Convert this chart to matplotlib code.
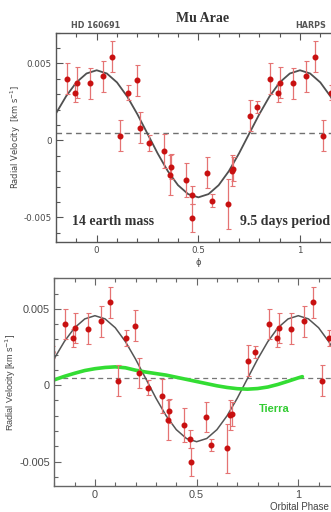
import matplotlib
matplotlib.use("Agg")
import matplotlib.pyplot as plt
from matplotlib.ticker import MultipleLocator

# phase-folded HARPS radial velocities of Mu Arae (km/s), one orbit
phase = [0.030, 0.074, 0.115, 0.152, 0.197, 0.215, 0.259, 0.331, 0.366, 0.361,
         0.438, 0.467, 0.470, 0.544, 0.569, 0.647, 0.664, 0.672, 0.754, 0.787,
         0.854, 0.893, 0.903, 0.965]
rv = [0.00417, 0.00543, 0.00030, 0.00309, 0.00390, 0.00081, -0.00017, -0.00072,
      -0.00170, -0.00226, -0.00260, -0.00354, -0.00502, -0.00209, -0.00391,
      -0.00413, -0.00196, -0.00187, 0.00161, 0.00218, 0.00400, 0.00309,
      0.00374, 0.00370]
rv_err = [0.0010, 0.0010, 0.0010, 0.0005, 0.0010, 0.0010, 0.0005, 0.0011,
          0.0008, 0.0013, 0.0011, 0.0006, 0.0009, 0.0010, 0.0004, 0.0016,
          0.0010, 0.0008, 0.0010, 0.0004, 0.0010, 0.0006, 0.0010, 0.0010]

# orbital fit
fit_phase = [-0.20, -0.15, -0.10, -0.05, 0.00, 0.05, 0.10, 0.15, 0.20, 0.25,
             0.30, 0.35, 0.40, 0.45, 0.50, 0.55, 0.60, 0.65, 0.70, 0.75,
             0.80, 0.85, 0.90, 0.95, 1.00, 1.05, 1.10, 1.15, 1.20]
fit_rv = [0.00175, 0.00287, 0.00376, 0.00434, 0.00455, 0.00434, 0.00376,
          0.00285, 0.00170, 0.00043, -0.00085, -0.00200, -0.00291, -0.00349,
          -0.00370, -0.00349, -0.00291, -0.00200, -0.00085, 0.00043, 0.00170,
          0.00285, 0.00376, 0.00434, 0.00455, 0.00434, 0.00376, 0.00285, 0.00175]

# "Tierra" curve on the lower panel
earth_phase = [-0.20, -0.15, -0.10, -0.05, 0.00, 0.05, 0.10, 0.15, 0.20, 0.25,
               0.30, 0.35, 0.40, 0.45, 0.50, 0.55, 0.60, 0.65, 0.70, 0.75,
               0.80, 0.85, 0.90, 0.95, 1.00, 1.02]
earth_rv = [0.00035, 0.00058, 0.00078, 0.00096, 0.00108, 0.00116, 0.00120,
            0.00114, 0.00098, 0.00086, 0.00076, 0.00066, 0.00052, 0.00038,
            0.00024, 0.00010, -0.00004, -0.00015, -0.00023, -0.00026, -0.00022,
            -0.00012, 0.00005, 0.00026, 0.00048, 0.00056]

systemic = 0.00045
x_range = (-0.2, 1.2)
y_range = (-0.0066, 0.0070)


def wrapped(ph, vals, errs):
    # repeat the orbit one phase left and right, keep what falls in range
    xs, ys, es = [], [], []
    for shift in (-1, 0, 1):
        for p, v, e in zip(ph, vals, errs):
            if x_range[0] - 0.02 <= p + shift <= x_range[1]:
                xs.append(p + shift)
                ys.append(v)
                es.append(e)
    return xs, ys, es


def setup_axes(ax, spine_col, tick_size, tick_font):
    ax.set_xlim(*x_range)
    ax.set_ylim(*y_range)
    ax.xaxis.set_major_locator(MultipleLocator(0.5))
    ax.xaxis.set_minor_locator(MultipleLocator(0.1))
    ax.yaxis.set_major_locator(MultipleLocator(0.005))
    ax.yaxis.set_minor_locator(MultipleLocator(0.001))
    ax.set_xticks([0, 0.5, 1])
    ax.set_xticklabels(["0", "0.5", "1"])
    ax.set_yticks([-0.005, 0, 0.005])
    ax.set_yticklabels(["-0.005", "0", "0.005"])
    ax.tick_params(which="both", direction="in", top=True, right=True,
                   colors=spine_col, labelcolor="#4a4a4a", labelsize=tick_size,
                   width=0.8)
    ax.tick_params(which="major", length=5, pad=3)
    ax.tick_params(which="minor", length=3)
    for lab in ax.get_xticklabels() + ax.get_yticklabels():
        lab.set_fontfamily(tick_font)
    for s in ax.spines.values():
        s.set_color(spine_col)
        s.set_linewidth(1.0)


xs, ys, es = wrapped(phase, rv, rv_err)

fig = plt.figure(figsize=(3.31, 5.12), dpi=100)

# upper panel
ax1 = fig.add_axes([0.1692, 0.5273, 0.860, 0.4092])
setup_axes(ax1, "#555555", 6.3, "DejaVu Sans")
ax1.axhline(systemic, color="#707070", lw=1.0, linestyle=(0, (4, 3)))
ax1.plot(fit_phase, fit_rv, color="#505050", lw=1.3)
ax1.errorbar(xs, ys, yerr=es, fmt="o", color="#c81010", ms=3.3,
             ecolor="#e57373", elinewidth=0.9, capsize=1.8, capthick=0.8)
ax1.set_ylabel("Radial Velocity  [km s$^{-1}$]", fontsize=6, color="#444444")
ax1.yaxis.set_label_coords(-0.116, 0.5)
ax1.set_xlabel("ϕ", fontsize=6, color="#444444", labelpad=2)
ax1.text(0.056, 0.10, "14 earth mass", transform=ax1.transAxes,
         fontfamily="Liberation Serif", fontweight="bold", fontsize=10,
         color="#333333", va="center")
ax1.text(0.645, 0.10, "9.5 days period", transform=ax1.transAxes,
         fontfamily="Liberation Serif", fontweight="bold", fontsize=10,
         color="#333333", va="center")
fig.text(203 / 331, 1 - 18 / 512, "Mu Arae", ha="center", va="center",
         fontfamily="Liberation Serif", fontweight="bold", fontsize=10,
         color="#333333")
fig.text(96 / 331, 1 - 25 / 512, "HD 160691", ha="center", va="center",
         fontweight="bold", fontsize=5.8, color="#555555")
fig.text(311 / 331, 1 - 25 / 512, "HARPS", ha="center", va="center",
         fontweight="bold", fontsize=5.8, color="#555555")

# lower panel
ax2 = fig.add_axes([0.164, 0.0508, 0.860, 0.4057])
setup_axes(ax2, "#666666", 7.8, "Liberation Sans")
ax2.axhline(systemic, color="#777777", lw=0.9, linestyle=(0, (4, 3)))
ax2.plot(fit_phase, fit_rv, color="#555555", lw=1.1)
ax2.plot(earth_phase, earth_rv, color="#33dd33", lw=2.6,
         solid_capstyle="round")
ax2.errorbar(xs, ys, yerr=es, fmt="o", color="#c81010", ms=3.3,
             ecolor="#e57373", elinewidth=0.9, capsize=1.8, capthick=0.8)
ax2.set_ylabel("Radial Velocity [km s$^{-1}$]", fontsize=6.5,
               fontfamily="Liberation Sans", color="#444444")
ax2.yaxis.set_label_coords(-0.129, 0.5)
ax2.text(0.72, 0.37, "Tierra", transform=ax2.transAxes, color="#33cc33",
         fontfamily="Liberation Sans", fontweight="bold", fontsize=8,
         va="center")
fig.text(270 / 331, 1 - 507 / 512, "Orbital Phase", ha="left", va="center",
         fontfamily="Liberation Sans", fontsize=7, color="#444444")

fig.savefig("out.png", dpi=100)
